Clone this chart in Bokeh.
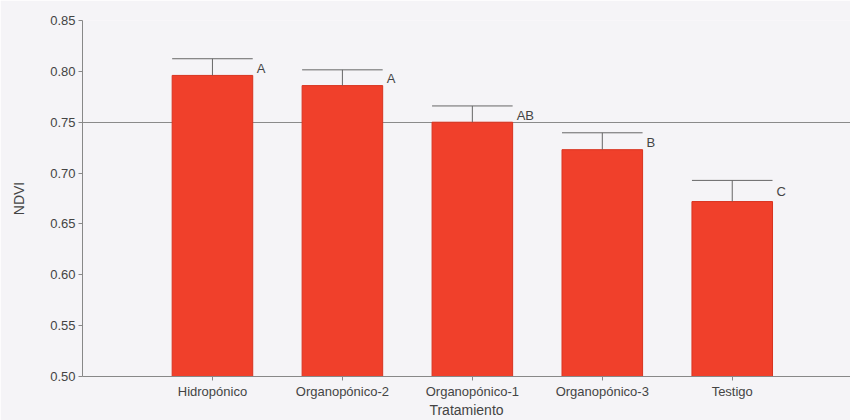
from bokeh.plotting import figure
from bokeh.models import Range1d, FixedTicker, ColumnDataSource
from bokeh.core.properties import value
from bokeh.embed import file_html
from bokeh.resources import INLINE

# NDVI per treatment: mean, upper error and significance letters
tratamientos = ["Hidropónico", "Organopónico-2", "Organopónico-1", "Organopónico-3", "Testigo"]
ndvi_media = [0.796, 0.786, 0.750, 0.723, 0.672]
ndvi_error = [0.0164, 0.0155, 0.0160, 0.0166, 0.0208]
letras = ["A", "A", "AB", "B", "C"]
y_ticks = [0.50, 0.55, 0.60, 0.65, 0.70, 0.75, 0.80, 0.85]

FONT = "Liberation Sans"
BG = "#F5F4F7"
BAR_W = 0.62

pos = list(range(1, len(tratamientos) + 1))
tops = [m + e for m, e in zip(ndvi_media, ndvi_error)]
src = ColumnDataSource(dict(
    x=pos,
    media=ndvi_media,
    top=tops,
    left=[x - BAR_W / 2 for x in pos],
    right=[x + BAR_W / 2 for x in pos],
    mid=[m + e / 2 for m, e in zip(ndvi_media, ndvi_error)],
    letra=letras,
))

p = figure(width=850, height=420, output_backend="svg", toolbar_location=None,
           x_range=Range1d(0, 5.91), y_range=Range1d(0.50, 0.85),
           min_border_left=82, min_border_right=0, min_border_top=20,
           min_border_bottom=42)
p.background_fill_color = BG
p.border_fill_color = BG
p.outline_line_color = None

# bars
p.vbar(x="x", top="media", bottom=0.50, width=BAR_W, source=src,
       fill_color="#F0402B", line_color="#D9331F", line_width=1)

# upper error bars with a cap spanning the bar width
p.segment(x0="x", y0="media", x1="x", y1="top", source=src,
          line_color="#666666", line_width=1)
p.segment(x0="left", y0="top", x1="right", y1="top", source=src,
          line_color="#666666", line_width=1)

# significance letters
p.text(x="right", y="mid", text="letra", source=src,
       text_font=value(FONT), text_font_size="13px", text_color="#444444",
       text_align="left", text_baseline="middle", x_offset=4, y_offset=1)

# grid: single reference line at 0.75
p.xgrid.grid_line_color = None
p.ygrid.ticker = FixedTicker(ticks=[0.75])
p.ygrid.grid_line_color = "#8a8a8a"
p.ygrid.grid_line_width = 1

# axes
p.yaxis.ticker = FixedTicker(ticks=y_ticks)
p.yaxis.major_label_overrides = {t: f"{t:.2f}" for t in y_ticks}
p.xaxis.ticker = FixedTicker(ticks=pos)
p.xaxis.major_label_overrides = {x: name for x, name in zip(pos, tratamientos)}
p.xaxis.axis_label = "Tratamiento"
p.yaxis.axis_label = "NDVI"

for ax in (p.xaxis[0], p.yaxis[0]):
    ax.axis_line_color = "#888888"
    ax.major_tick_line_color = "#888888"
    ax.major_tick_in = 0
    ax.major_tick_out = 4
    ax.minor_tick_line_color = None
    ax.major_label_text_font = FONT
    ax.major_label_text_font_size = "13px"
    ax.major_label_text_color = "#444444"
    ax.axis_label_text_font = FONT
    ax.axis_label_text_font_size = "14px"
    ax.axis_label_text_font_style = "normal"
    ax.axis_label_text_color = "#444444"

p.xaxis.major_label_standoff = 3
p.xaxis.axis_label_standoff = 0
p.yaxis.major_label_standoff = 3
p.yaxis.axis_label_standoff = 20

open("out.html", "w").write(file_html(p, INLINE))
